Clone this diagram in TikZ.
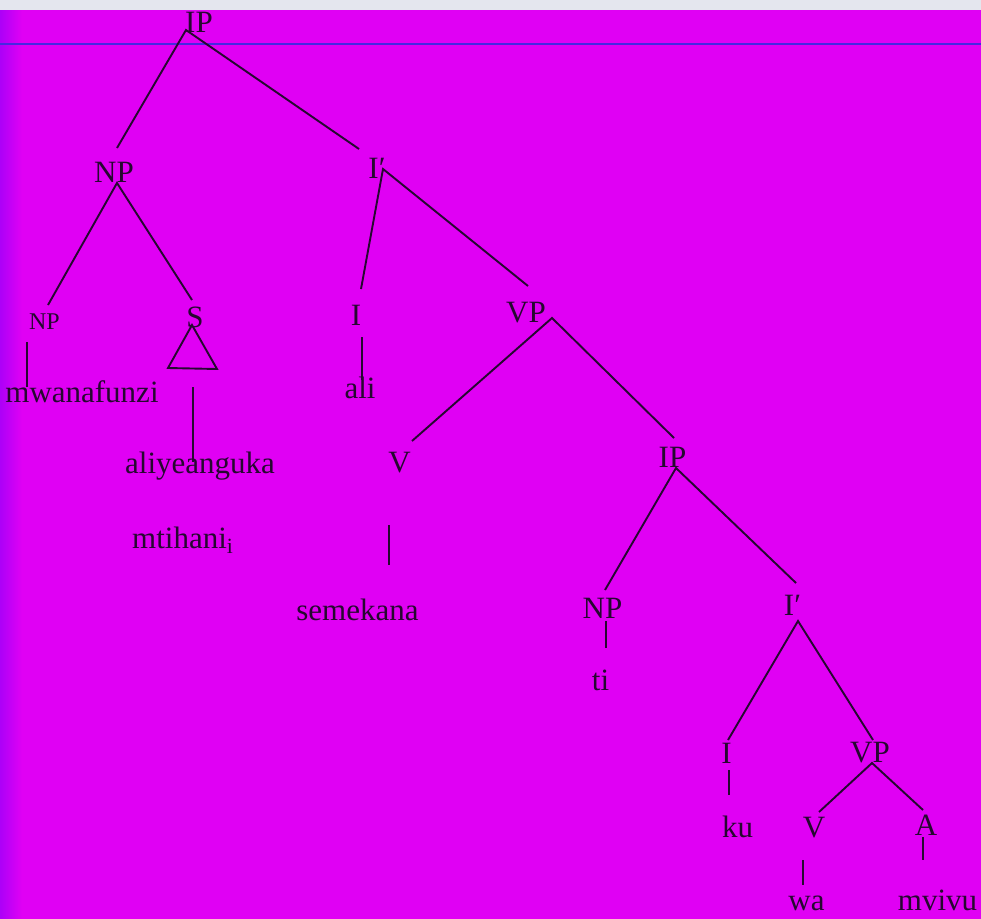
\documentclass[tikz,border=0pt]{standalone}
\usepackage{fontspec}
\setmainfont{Liberation Serif}
\definecolor{bgmag}{RGB}{224,0,244}
\definecolor{bgvio}{RGB}{168,0,248}
\definecolor{topstrip}{RGB}{228,230,238}
\definecolor{ruleblue}{RGB}{70,40,225}
\definecolor{ink}{RGB}{38,8,48}
\begin{document}
\begin{tikzpicture}[x=1pt,y=-1pt,
  lab/.style={anchor=base,inner sep=0pt,text=ink,font=\fontsize{31}{31}\selectfont},
  smalllab/.style={lab,font=\fontsize{24}{24}\selectfont},
  br/.style={draw=ink,line width=1.9pt}]
\useasboundingbox (0,0) rectangle (981,918);
% background
\fill[bgmag] (-5,-5) rectangle (990,925);
\shade[left color=bgvio,right color=bgmag] (-2,10) rectangle (22,925);
\fill[topstrip] (-5,-5) rectangle (990,10);
\draw[ruleblue,line width=1.2pt] (-5,44) -- (990,44);

% text nodes
\node[lab] (IPa) at (199,32) {IP};
\node[lab] (NPa) at (114,182) {NP};
\node[lab] (Ibara) at (377,178) {I′};
\node[smalllab] (NPb) at (44.5,329) {NP};
\node[lab] (S) at (195,327) {S};
\node[lab] (Ia) at (356,325) {I};
\node[lab] (VPa) at (526,322) {VP};
\node[lab] (mwana) at (82,402) {mwanafunzi};
\node[lab] (ali) at (360,398) {ali};
\node[lab] (aliye) at (200,473) {aliyeanguka};
\node[lab,anchor=base west] (mtihani) at (132,548) {mtihani\textsubscript{i}};
\node[lab] (Va) at (399.5,472) {V};
\node[lab] (IPb) at (672.5,467) {IP};
\node[lab] (seme) at (357.5,620) {semekana};
\node[lab] (NPc) at (602.5,618) {NP};
\node[lab] (Ibarb) at (792.5,615) {I′};
\node[lab] (ti) at (600.5,690) {ti};
\node[lab] (Ib) at (726.5,763) {I};
\node[lab] (VPb) at (870,762) {VP};
\node[lab] (ku) at (737.5,837) {ku};
\node[lab] (Vb) at (814,837) {V};
\node[lab] (A) at (926,835) {A};
\node[lab] (wa) at (806.5,910) {wa};
\node[lab] (mvivu) at (937.5,910) {mvivu};

% connector end points
\coordinate (IPa-d) at (186,30);
\coordinate (NPa-u) at (117,148);
\coordinate (Ibara-u) at (359,149);
\coordinate (NPa-d) at (117,183);
\coordinate (NPb-u) at (48,305);
\coordinate (S-u) at (192,300);
\coordinate (Ibara-d) at (383,169);
\coordinate (Ia-u) at (361,289);
\coordinate (VPa-u) at (528,286);
\coordinate (NPb-d) at (27,342);
\coordinate (mwana-u) at (27,387);
\coordinate (tri-top) at (192,325);
\coordinate (tri-l) at (168,368);
\coordinate (tri-r) at (217,369);
\coordinate (S-d) at (193,387);
\coordinate (aliye-u) at (193,462);
\coordinate (Ia-d) at (362,337);
\coordinate (ali-u) at (362,380);
\coordinate (VPa-d) at (552,318);
\coordinate (Va-u) at (412,441);
\coordinate (IPb-u) at (674,438);
\coordinate (Va-d) at (389,525);
\coordinate (seme-u) at (389,565);
\coordinate (IPb-d) at (676,468);
\coordinate (NPc-u) at (605,590);
\coordinate (Ibarb-u) at (796,583);
\coordinate (NPc-d) at (606,621);
\coordinate (ti-u) at (606,648);
\coordinate (Ibarb-d) at (798,621);
\coordinate (Ib-u) at (728,740);
\coordinate (VPb-u) at (873,740);
\coordinate (Ib-d) at (729,770);
\coordinate (ku-u) at (729,795);
\coordinate (VPb-d) at (872,763);
\coordinate (Vb-u) at (819,812);
\coordinate (A-u) at (923,810);
\coordinate (Vb-d) at (803,860);
\coordinate (wa-u) at (803,885);
\coordinate (A-d) at (923,837);
\coordinate (mvivu-u) at (923,860);

% branches
\draw[br] (NPa-u) -- (IPa-d) -- (Ibara-u);
\draw[br] (NPb-u) -- (NPa-d) -- (S-u);
\draw[br] (Ia-u) -- (Ibara-d) -- (VPa-u);
\draw[br] (NPb-d) -- (mwana-u);
\draw[br,line join=miter] (tri-top) -- (tri-l) -- (tri-r) -- cycle;
\draw[br] (S-d) -- (aliye-u);
\draw[br] (Ia-d) -- (ali-u);
\draw[br] (Va-u) -- (VPa-d) -- (IPb-u);
\draw[br] (Va-d) -- (seme-u);
\draw[br] (NPc-u) -- (IPb-d) -- (Ibarb-u);
\draw[br] (NPc-d) -- (ti-u);
\draw[br] (Ib-u) -- (Ibarb-d) -- (VPb-u);
\draw[br] (Ib-d) -- (ku-u);
\draw[br] (Vb-u) -- (VPb-d) -- (A-u);
\draw[br] (Vb-d) -- (wa-u);
\draw[br] (A-d) -- (mvivu-u);
\end{tikzpicture}
\end{document}
